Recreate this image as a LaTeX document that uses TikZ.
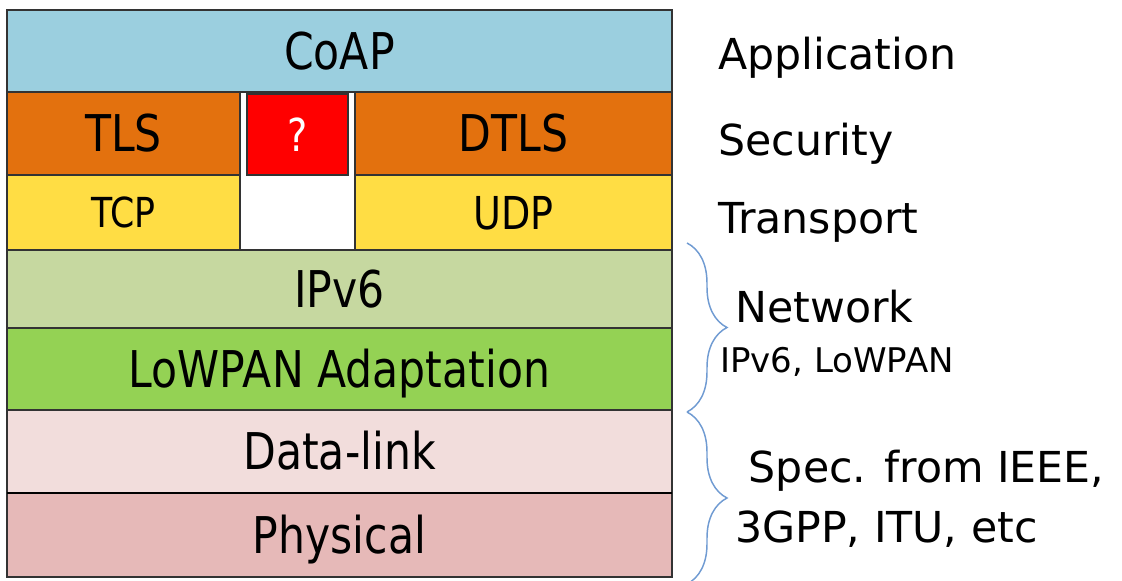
\documentclass[tikz,border=0pt]{standalone}
\usepackage{fontspec}
\setmainfont{DejaVu Sans}
\newfontfamily\narrowfont[FakeStretch=0.84]{DejaVu Sans}
\usepackage{tikz}
\usetikzlibrary{decorations.pathreplacing}
\definecolor{coapblue}{RGB}{155,207,223}
\definecolor{tlsorange}{RGB}{227,113,14}
\definecolor{tcpyellow}{RGB}{255,221,68}
\definecolor{ipgreen}{RGB}{198,216,160}
\definecolor{lowpangreen}{RGB}{148,210,84}
\definecolor{linkpink}{RGB}{242,221,220}
\definecolor{phyrose}{RGB}{230,185,184}
\definecolor{bracecol}{RGB}{112,155,210}
\tikzset{
  boxline/.style={draw=black!80,line width=1.4pt},
  boxtext/.style={font=\narrowfont\fontsize{38}{40}\selectfont,inner sep=0pt,
    text height=27.7pt,text depth=0pt},
  smalltext/.style={font=\narrowfont\fontsize{#1}{#1}\selectfont,text height=0.73*#1 pt},
  sidetext/.style={font=\fontsize{32}{36}\selectfont,anchor=base west,inner sep=0pt},
  bracedeco/.style={draw=bracecol,line width=1.1pt,decorate,
    decoration={brace,amplitude=30pt,#1}}
}
% one coloured layer of the stack, name, corners, colour, text
\newcommand{\layerbox}[8][]{%
  \draw[boxline,fill=#7] (#3,#4) rectangle (#5,#6);
  \node[boxtext,#1] (#2) at ({(#3+#5)/2},{(#4+#6)/2}) {#8};}

\begin{document}
\begin{tikzpicture}[x=0.75pt,y=-0.75pt]
	\useasboundingbox (0,0) rectangle (1122,581);

	\layerbox{coap}{7}{10}{672}{92}{coapblue}{CoAP}
	\layerbox{tls}{7}{92}{240}{175}{tlsorange}{TLS}
	\layerbox{dtls}{355}{92}{672}{175}{tlsorange}{DTLS}
	\layerbox[text=white,smalltext=34]{unknown}{247}{94}{348}{175}{red}{?}
	\layerbox[smalltext=31]{tcp}{7}{175}{240}{250}{tcpyellow}{TCP}
	\layerbox[smalltext=34]{udp}{355}{175}{672}{250}{tcpyellow}{UDP}
	\layerbox{ipv6}{7}{250}{672}{328}{ipgreen}{IPv6}
	\layerbox{lowpan}{7}{328}{672}{410}{lowpangreen}{LoWPAN Adaptation}
	\layerbox{datalink}{7}{410}{672}{493}{linkpink}{Data-link}
	\layerbox{physical}{7}{493}{672}{577}{phyrose}{Physical}
	\draw[draw=black,line width=2.2pt] (7,493) -- (672,493);

	\node[sidetext] (application) at (718,70) {Application};
	\node[sidetext] (security) at (718,156) {Security};
	\node[sidetext] (transport) at (718,234) {Transport};
	\node[sidetext] (network) at (735,322) {Network};
	\node[sidetext,font=\fontsize{25.5}{28}\selectfont] (netsub) at (720,372) {IPv6, LoWPAN};
	\node[sidetext] (spec) at (735,482) {\ Spec. from IEEE,};
	\node[sidetext] (specb) at (735,542) {3GPP, ITU, etc};

	\coordinate (nettop) at (687,243);
	\coordinate (netbot) at (687,412);
	\coordinate (phytop) at (687,412);
	\coordinate (phybot) at (687,584);
	\draw[bracedeco] (nettop) -- (netbot);
	\draw[bracedeco={aspect=0.5}] (phytop) -- (phybot);
\end{tikzpicture}
\end{document}
